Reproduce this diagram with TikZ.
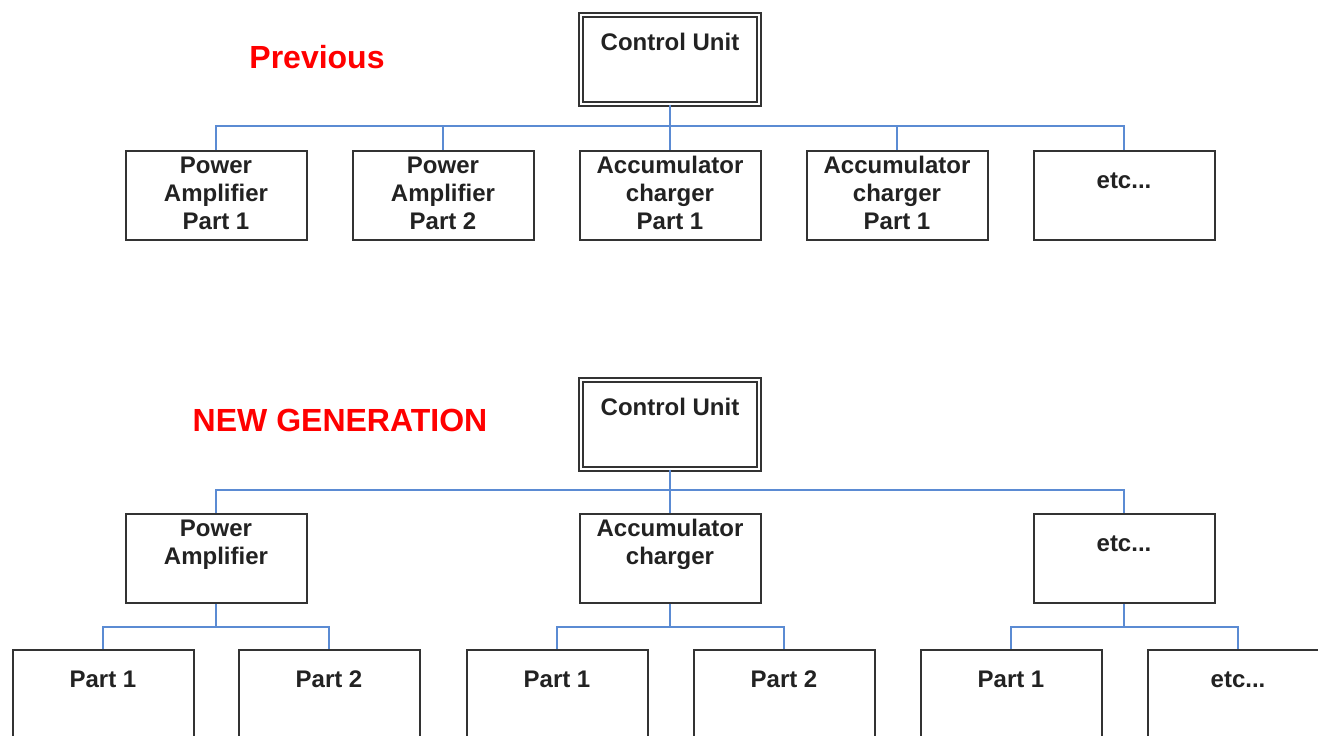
\documentclass[tikz,border=0pt]{standalone}
\usepackage{fontspec}
\setmainfont{Liberation Sans}
\usetikzlibrary{positioning}
\definecolor{busblue}{HTML}{5B8BD3}
\definecolor{boxgray}{HTML}{333333}
\definecolor{textgray}{HTML}{222222}
% text of a box, hung from its top edge
\newcommand{\boxtext}[2][11.6pt]{\parbox[c][44.5pt][t]{88pt}{\centering\rule{0pt}{#1}#2}}
\begin{document}
\begin{tikzpicture}[x=0.5pt,y=-0.5pt,
    every node/.style={font=\bfseries\fontsize{12}{14}\selectfont, text=textgray},
    unitbox/.style={rectangle, draw=boxgray, line width=1pt, inner sep=0pt, minimum width=90.5pt, minimum height=44.5pt},
    ctrlbox/.style={unitbox, double, double distance=1pt, line width=1pt, minimum width=89pt},
    bus/.style={draw=busblue, line width=1pt},
    heading/.style={text=red, font=\bfseries\fontsize{16}{19}\selectfont}]
    \useasboundingbox (0,0) rectangle (1318,735);
    \clip (0,0) rectangle (1318,735);
    % previous
    \node[heading] (prevTitle) at (317,57) {Previous};
    \node[ctrlbox] (cuPrev) at (670,59.1) {\boxtext[17.7pt]{Control Unit}};
    \node[unitbox] (paPartA) at (216,195.25) {\boxtext{Power\\Amplifier\\Part 1}};
    \node[unitbox] (paPartB) at (443,195.25) {\boxtext{Power\\Amplifier\\Part 2}};
    \node[unitbox] (acPartA) at (670,195.25) {\boxtext{Accumulator\\charger\\Part 1}};
    \node[unitbox] (acPartB) at (897,195.25) {\boxtext{Accumulator\\charger\\Part 1}};
    \node[unitbox] (etcPrev) at (1124,195.25) {\boxtext[18.8pt]{etc...}};
    \coordinate (busPrev) at (670,126);
    \draw[bus] (cuPrev.south) -- (acPartA.north);
    \foreach \n in {paPartA,paPartB,acPartB,etcPrev}
        \draw[bus] (\n.north) |- (busPrev);
    % new generation
    \node[heading] (newTitle) at (340,420) {NEW GENERATION};
    \node[ctrlbox] (cuNew) at (670,424.1) {\boxtext[17.7pt]{Control Unit}};
    \node[unitbox] (paNew) at (216,558.25) {\boxtext{Power\\Amplifier}};
    \node[unitbox] (acNew) at (670,558.25) {\boxtext{Accumulator\\charger}};
    \node[unitbox] (etcNew) at (1124,558.25) {\boxtext[18.8pt]{etc...}};
    \coordinate (busNew) at (670,490);
    \draw[bus] (cuNew.south) -- (acNew.north);
    \foreach \n in {paNew,etcNew}
        \draw[bus] (\n.north) |- (busNew);
    % parts below each unit
    \node[unitbox] (paNewA) at (103,694.25) {\boxtext[18.8pt]{Part 1}};
    \node[unitbox] (paNewB) at (329,694.25) {\boxtext[18.8pt]{Part 2}};
    \node[unitbox] (acNewA) at (557,694.25) {\boxtext[18.8pt]{Part 1}};
    \node[unitbox] (acNewB) at (784,694.25) {\boxtext[18.8pt]{Part 2}};
    \node[unitbox] (etcNewA) at (1011,694.25) {\boxtext[18.8pt]{Part 1}};
    \node[unitbox] (etcNewB) at (1238,694.25) {\boxtext[18.8pt]{etc...}};
    \foreach \p/\a/\b in {paNew/paNewA/paNewB, acNew/acNewA/acNewB, etcNew/etcNewA/etcNewB} {
        \coordinate (\p-sub) at ([yshift=-11.5pt]\p.south);
        \draw[bus] (\p.south) -- (\p-sub);
        \draw[bus] (\a.north) |- (\p-sub);
        \draw[bus] (\b.north) |- (\p-sub);
    }
\end{tikzpicture}
\end{document}
